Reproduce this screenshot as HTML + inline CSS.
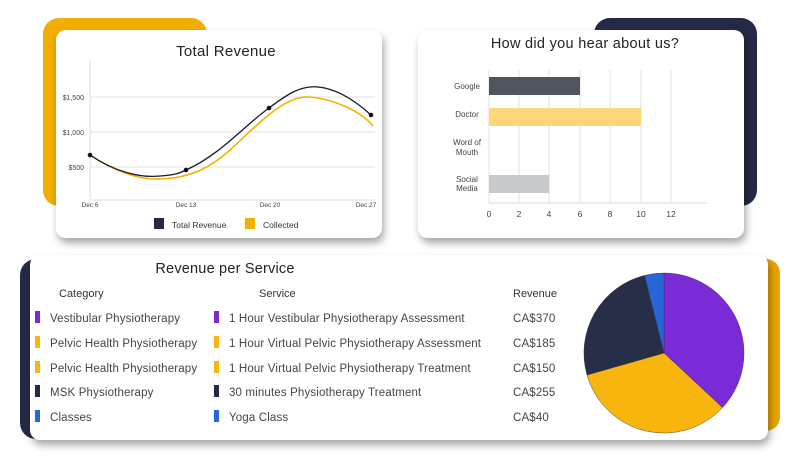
<!DOCTYPE html>
<html><head><meta charset="utf-8"><style>
html,body{margin:0;padding:0;background:#fff;}
svg{display:block;font-family:"Liberation Sans",sans-serif;}
</style></head><body>
<svg width="800" height="473" viewBox="0 0 800 473" xmlns="http://www.w3.org/2000/svg">
<defs>
<filter id="sh" x="-10%" y="-10%" width="120%" height="130%">
<feDropShadow dx="2" dy="5" stdDeviation="4" flood-color="#000" flood-opacity="0.35"/>
</filter>
</defs>
<rect x="43" y="18" width="164" height="188" rx="16" fill="#f2ad00"/>
<rect x="594" y="18" width="163" height="188" rx="16" fill="#232a45"/>
<rect x="20" y="259" width="40" height="180" rx="16" fill="#232a45"/>
<rect x="740" y="259" width="40" height="172" rx="14" fill="#e8a400"/>
<rect x="56" y="30" width="326" height="208" rx="10" fill="#fff" filter="url(#sh)"/>
<rect x="418" y="30" width="326" height="208" rx="10" fill="#fff" filter="url(#sh)"/>
<rect x="30" y="255" width="738" height="185" rx="10" fill="#fff" filter="url(#sh)"/>

<text x="226" y="56" font-size="15" text-anchor="middle" fill="#222" letter-spacing="0.3">Total Revenue</text>
<g stroke="#e2e2e2" stroke-width="1">
<line x1="90" y1="97" x2="375" y2="97"/><line x1="90" y1="132" x2="375" y2="132"/><line x1="90" y1="167" x2="375" y2="167"/>
</g>
<line x1="90" y1="60" x2="90" y2="200" stroke="#ddd"/>
<line x1="90" y1="200" x2="375" y2="200" stroke="#ddd"/>
<g font-size="7" fill="#444" text-anchor="end">
<text x="84" y="100">$1,500</text><text x="84" y="135">$1,000</text><text x="84" y="170">$500</text>
</g>
<g font-size="6.5" fill="#444" text-anchor="middle">
<text x="90" y="207">Dec 6</text><text x="186" y="207">Dec 13</text><text x="270" y="207">Dec 20</text><text x="366" y="207">Dec 27</text>
</g>
<path d="M90,155 C115,172 140,180 160,179 C190,178 210,168 230,150 C260,122 285,96 308,97 C330,98 360,110 373,126" fill="none" stroke="#f2b300" stroke-width="1.6"/>
<path d="M90,155 C115,172 140,178 160,176 C175,175 180,173 186,170 C220,155 245,125 269,108 C285,96 300,85 318,87 C340,89 360,105 371,115" fill="none" stroke="#141a30" stroke-width="1.3"/>
<g fill="#111"><circle cx="90" cy="155" r="2.3"/><circle cx="186" cy="170" r="2.3"/><circle cx="269" cy="108" r="2.3"/><circle cx="371" cy="115" r="2.3"/></g>
<rect x="154" y="218" width="10" height="11" fill="#232a45"/>
<text x="172" y="228" font-size="8.5" fill="#333">Total Revenue</text>
<rect x="245" y="218" width="10" height="11" fill="#f2b300"/>
<text x="263" y="228" font-size="8.5" fill="#333">Collected</text>

<text x="585" y="48" font-size="14.5" text-anchor="middle" fill="#222" letter-spacing="0.3">How did you hear about us?</text>
<g stroke="#e0e0e0">
<line x1="489" y1="70" x2="489" y2="203"/><line x1="519" y1="70" x2="519" y2="203"/><line x1="549" y1="70" x2="549" y2="203"/><line x1="580" y1="70" x2="580" y2="203"/><line x1="610" y1="70" x2="610" y2="203"/><line x1="641" y1="70" x2="641" y2="203"/><line x1="671" y1="70" x2="671" y2="203"/>
</g>
<line x1="489" y1="203" x2="708" y2="203" stroke="#ddd"/>
<rect x="489" y="77" width="91" height="18" fill="#50555e"/>
<rect x="489" y="108" width="152" height="18" fill="#fdd77a"/>
<rect x="489" y="175" width="60" height="18" fill="#c8c9cc"/>
<g font-size="8" fill="#444" text-anchor="middle">
<text x="467" y="89">Google</text><text x="467" y="117">Doctor</text>
<text x="467" y="145">Word of</text><text x="467" y="155">Mouth</text>
<text x="467" y="182">Social</text><text x="467" y="191">Media</text>
</g>
<g font-size="8.5" fill="#444" text-anchor="middle">
<text x="489" y="217">0</text><text x="519" y="217">2</text><text x="549" y="217">4</text><text x="580" y="217">6</text><text x="610" y="217">8</text><text x="641" y="217">10</text><text x="671" y="217">12</text>
</g>

<text x="225" y="273" font-size="14.5" text-anchor="middle" fill="#222" letter-spacing="0.2">Revenue per Service</text>
<g font-size="11" fill="#333">
<text x="59" y="297">Category</text><text x="259" y="297">Service</text><text x="513" y="297">Revenue</text>
</g>
<g font-size="11.5" fill="#444" letter-spacing="0.15">
<rect x="35" y="311" width="5" height="12" fill="#7a2ad6"/><rect x="214" y="311" width="5" height="12" fill="#7a2ad6"/>
<text x="50" y="322">Vestibular Physiotherapy</text><text x="229" y="322">1 Hour Vestibular Physiotherapy Assessment</text><text x="513" y="322">CA$370</text>
<rect x="35" y="336" width="5" height="12" fill="#f7b50d"/><rect x="214" y="336" width="5" height="12" fill="#f7b50d"/>
<text x="50" y="347">Pelvic Health Physiotherapy</text><text x="229" y="347">1 Hour Virtual Pelvic Physiotherapy Assessment</text><text x="513" y="347">CA$185</text>
<rect x="35" y="361" width="5" height="12" fill="#f7b50d"/><rect x="214" y="361" width="5" height="12" fill="#f7b50d"/>
<text x="50" y="372">Pelvic Health Physiotherapy</text><text x="229" y="372">1 Hour Virtual Pelvic Physiotherapy Treatment</text><text x="513" y="372">CA$150</text>
<rect x="35" y="385" width="5" height="12" fill="#232a45"/><rect x="214" y="385" width="5" height="12" fill="#232a45"/>
<text x="50" y="396">MSK Physiotherapy</text><text x="229" y="396">30 minutes Physiotherapy Treatment</text><text x="513" y="396">CA$255</text>
<rect x="35" y="410" width="5" height="12" fill="#2766d6"/><rect x="214" y="410" width="5" height="12" fill="#2766d6"/>
<text x="50" y="421">Classes</text><text x="229" y="421">Yoga Class</text><text x="513" y="421">CA$40</text>
</g>

<g stroke="#333" stroke-width="0.4">
<path d="M664,353 L664,273 A80,80 0 0,1 722.5,407.6 Z" fill="#7a2ad6"/>
<path d="M664,353 L722.5,407.6 A80,80 0 0,1 587,375 Z" fill="#f7b50d"/>
<path d="M664,353 L587,375 A80,80 0 0,1 644.6,275.4 Z" fill="#262e48"/>
<path d="M664,353 L644.6,275.4 A80,80 0 0,1 664,273 Z" fill="#2766d6"/>
</g>
</svg>
</body></html>
